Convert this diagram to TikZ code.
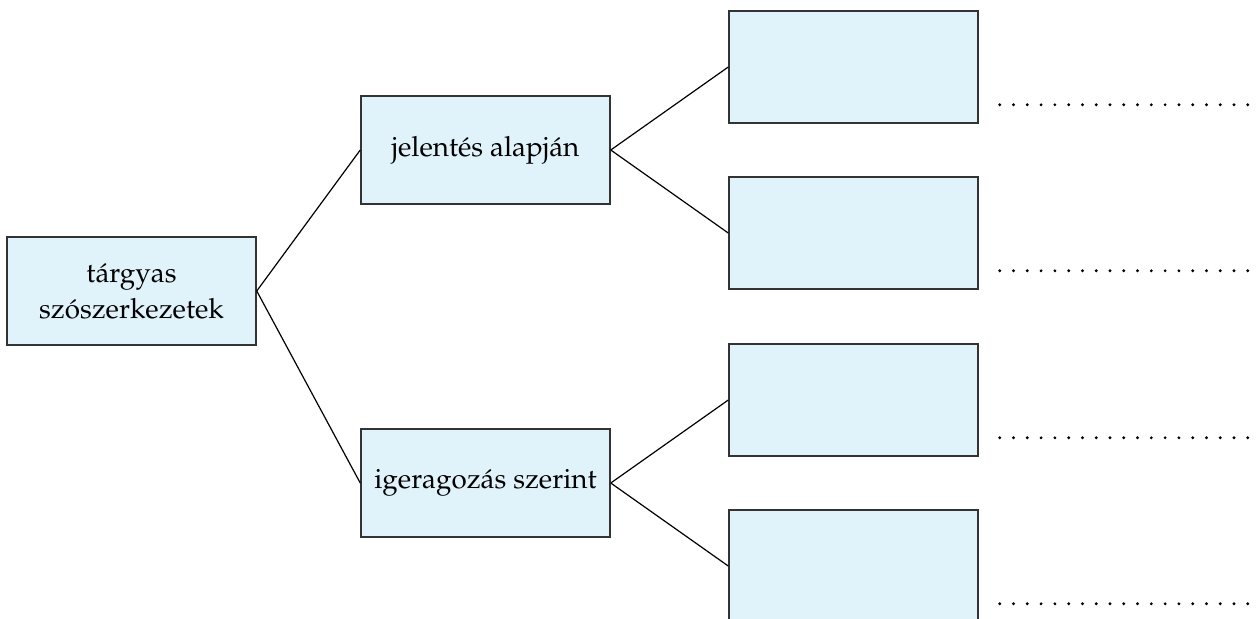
\documentclass[tikz,border=0pt]{standalone}
\usepackage[T1]{fontenc}
\usepackage{mathpazo}
\usepackage{tikz}
\usetikzlibrary{calc}

\definecolor{boxfill}{RGB}{224,243,250}
\definecolor{boxline}{RGB}{51,51,51}

\begin{document}
\begin{tikzpicture}[
  x=0.5pt, y=0.5pt,
  grow=right,
  level 1/.style={sibling distance=83pt, level distance=184pt},
  edge from parent/.style={draw, line width=0.6pt},
  edge from parent path={(\tikzparentnode.east) -- (\tikzchildnode.west)},
  every node/.style={align=center, font=\fontsize{13.9}{18}\selectfont},
  box/.style={draw=boxline, line width=0.75pt, fill=boxfill, inner sep=0pt, minimum width=124.5pt, minimum height=54pt},
  leafbox/.style={box, minimum height=56pt},
  dotrow/.style={line width=1.6pt, line cap=round, dash pattern=on 0pt off 6.89pt}
]
\useasboundingbox (0,0) rectangle (1256,-618);

\node[box] (root) at (131.5,-291) {tárgyas\\szószerkezetek};

\node[box] (meaning) at (485.5,-150) {jelentés alapján}
  child {node[leafbox] {}}
  child {node[leafbox] {}};
\node[box] (conj) at (485.5,-483) {igeragozás szerint}
  child {node[leafbox] {}}
  child {node[leafbox] {}};

\draw[line width=0.6pt] (root.east) -- (meaning.west);
\draw[line width=0.6pt] (root.east) -- (conj.west);

% dotted lines to write in
\foreach \n in {meaning-1, meaning-2, conj-1, conj-2}
  \draw[dotrow] ($(\n.south east)+(21,19)$) -- ++(249,0);
\end{tikzpicture}
\end{document}
